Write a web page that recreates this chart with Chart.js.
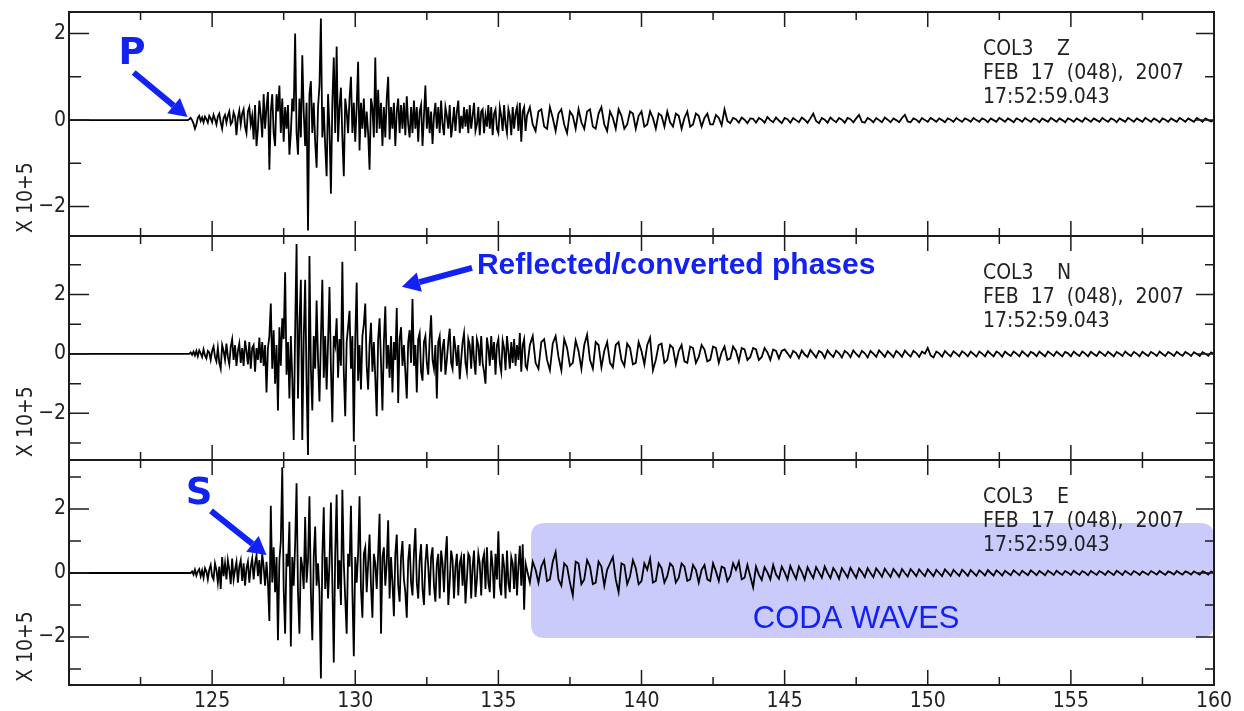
<!DOCTYPE html>
<html>
<head>
<meta charset="utf-8">
<title>COL3 seismogram - Feb 17 2007</title>
<script src="https://cdn.jsdelivr.net/npm/chart.js@4.4.0/dist/chart.umd.min.js"></script>
<style>
  html, body { margin: 0; padding: 0; background: #fff; }
  #wrap { position: relative; width: 1244px; height: 711px; overflow: hidden; }
  #wrap canvas { position: absolute; left: 0; }
</style>
</head>
<body>
<div id="wrap">
  <canvas id="chartZ"></canvas>
  <canvas id="chartN"></canvas>
  <canvas id="chartE"></canvas>
</div>
<script>
// ---- data (amplitudes in units of 10^5) ----
// strong motion sampled every 0.05 s from 124.0 s, coda every 0.1 s from 136.0 s
const QUIET_START = 120;
const STRONG_START = 124.0, STRONG_STEP = 0.05;
const CODA_START = 136.0, CODA_STEP = 0.1;

const xTickLabels = [125, 130, 135, 140, 145, 150, 155, 160];
const yTickLabels = [-2, 0, 2];

const stationName = 'COL3';
const dateLine = 'FEB 17 (048), 2007';
const timeLine = '17:52:59.043';
const unitLabel = 'X 10+5';

// vertical component
const zStrong = [
  0, 0, 0, 0, 0.02, 0.05, 0.0, -0.08, -0.2, -0.1, 0.05, 0.1, -0.02, 0.06, -0.05, 0.08, 0.02, -0.06, 0.1, 0.04,        // 124
  -0.05, 0.12, 0.02, -0.1, 0.08, 0.15, -0.05, -0.2, 0.05, 0.12, -0.06, 0.1, 0.2, -0.1, -0.05, 0.18, 0.08, -0.35, 0.05, 0.22, // 125
  -0.1, 0.15, 0.25, -0.15, -0.3, 0.2, 0.3, -0.1, 0.1, -0.45, 0.35, -0.6, -0.2, 0.45, 0.1, -0.4, 0.6, -0.2, 0.3, 0.65,   // 126
  -1.15, 0.2, 0.6, -0.3, -0.6, 0.6, 0.2, 0.8, -0.3, 0.5, -0.5, 0.3, -0.2, 0.35, -0.8, -0.3, 0.5, 0.2, 2.0, -0.3,         // 127
  -0.8, 0.5, -0.4, 1.5, 0.2, -0.6, 0.4, -2.55, 0.6, 0.9, -0.3, 0.4, -0.5, -1.1, 0.3, 0.8, 2.35, -0.4, 0.3, -0.6,         // 128
  -1.3, 0.6, -0.2, -1.7, 0.4, 1.45, -0.3, 1.7, -0.5, 0.3, 0.75, -0.4, -1.3, 0.5, 0.2, -0.3, 0.5, 1.0, -0.3, 0.4,         // 129
  -0.5, 0.3, 1.35, -0.7, 0.4, -0.2, 0.5, -0.4, 0.2, -0.3, -1.15, 0.5, 0.3, -0.4, 1.45, -0.3, 0.7, -0.2, 0.4, -0.6,       // 130
  0.3, -0.4, 0.5, 1.0, -0.45, 0.3, -0.2, 0.4, -0.6, 0.2, 0.5, -0.3, 0.35, -0.2, 0.4, -0.35, 0.55, -0.1, -0.4, 0.3,       // 131
  -0.3, 0.45, -0.2, 0.3, -0.5, 0.2, 0.35, -0.6, 0.1, 0.8, -0.2, 0.3, -0.3, 0.2, -0.55, 0.1, 0.4, -0.2, 0.3, -0.3,        // 132
  0.45, -0.1, -0.35, 0.3, 0.1, -0.2, 0.35, -0.4, -0.1, 0.3, -0.25, 0.2, 0.45, -0.3, 0.1, -0.2, 0.3, -0.15, 0.25, -0.3,   // 133
  0.35, -0.2, 0.1, 0.4, -0.25, -0.1, 0.3, -0.35, 0.2, 0.25, -0.3, 0.1, -0.15, 0.35, -0.2, 0.3, -0.35, 0.15, 0.25, -0.2,  // 134
  -0.3, 0.3, 0.1, -0.25, 0.35, -0.1, -0.3, 0.25, 0.1, -0.35, 0.3, -0.2, 0.15, 0.3, -0.25, 0.4, -0.5, 0.2, 0.3, -0.25     // 135
];
const zCoda = [
  0.1, 0.3, -0.1, -0.25, 0.2, 0.25, -0.15, -0.2, 0.3, 0.05,        // 136
  -0.25, 0.15, 0.25, -0.1, -0.3, 0.2, 0.1, -0.2, 0.25, -0.05,      // 137
  -0.2, 0.2, 0.25, -0.15, -0.2, 0.15, 0.3, -0.1, -0.25, 0.2,       // 138
  0.05, -0.2, 0.25, 0.1, -0.2, -0.1, 0.2, 0.15, -0.2, 0.1,         // 139
  0.2, -0.15, -0.1, 0.2, 0.05, -0.2, 0.15, 0.1, -0.15, 0.2,        // 140
  -0.05, -0.15, 0.15, 0.1, -0.2, 0.05, 0.2, -0.15, -0.1, 0.15,     // 141
  0.1, -0.15, 0.05, 0.15, -0.1, -0.1, 0.12, 0.05, -0.12, 0.25,     // 142
  -0.02, -0.07, 0.05, 0.02, -0.06, 0.06, 0.01, -0.07, 0.04, 0.03,  // 143
  -0.06, 0.05, 0.01, -0.06, 0.07, 0.0, -0.05, 0.06, -0.01, -0.07,  // 144
  0.05, 0.02, -0.06, 0.05, 0.0, -0.05, 0.06, 0.01, -0.06, 0.04,    // 145
  0.15, -0.02, -0.07, 0.05, 0.01, -0.06, 0.06, 0.0, -0.05, 0.05,   // 146
  0.01, -0.06, 0.05, 0.02, -0.05, 0.04, 0.12, -0.04, -0.06, 0.05,  // 147
  0.01, -0.05, 0.05, 0.0, -0.05, 0.06, 0.01, -0.05, 0.04, 0.0,     // 148
  -0.05, 0.05, 0.12, -0.03, -0.05, 0.04, 0.01, -0.05, 0.05, 0.0,   // 149
  -0.04, 0.05, 0.01, -0.04, 0.04, 0.0, -0.05, 0.04, 0.01, -0.04,   // 150
  0.05, 0.0, -0.04, 0.04, 0.01, -0.04, 0.05, 0.0, -0.04, 0.04,     // 151
  0.01, -0.05, 0.04, 0.0, -0.04, 0.05, 0.01, -0.04, 0.04, 0.0,     // 152
  -0.05, 0.04, 0.01, -0.04, 0.05, 0.0, -0.04, 0.04, 0.01, -0.05,   // 153
  0.04, 0.0, -0.04, 0.05, 0.01, -0.04, 0.04, 0.0, -0.05, 0.04,     // 154
  0.01, -0.04, 0.04, 0.0, -0.04, 0.05, 0.01, -0.04, 0.04, 0.0,     // 155
  -0.04, 0.05, 0.0, -0.04, 0.04, 0.01, -0.05, 0.04, 0.0, -0.04,    // 156
  0.05, 0.01, -0.04, 0.04, 0.0, -0.04, 0.05, 0.01, -0.04, 0.04,    // 157
  0.0, -0.05, 0.04, 0.01, -0.04, 0.04, 0.0, -0.04, 0.05, 0.01,     // 158
  -0.04, 0.04, 0.0, -0.04, 0.05, 0.01, -0.04, 0.04, 0.0, -0.03,    // 159
  0.0
];

// north component
const nStrong = [
  0, 0, 0, 0, 0, 0.05, -0.03, 0.08, -0.05, 0.1, -0.08, 0.12, 0.02, -0.1, 0.15, -0.05, -0.15, 0.1, 0.05, -0.2,          // 124
  0.1, 0.25, -0.1, -0.25, 0.2, -0.3, -0.5, 0.3, 0.1, -0.2, 0.35, -0.1, -0.35, 0.25, 0.5, -0.2, 0.3, -0.4, 0.1, 0.35,     // 125
  -0.3, 0.2, -0.4, 0.45, 0.1, -0.35, 0.4, -0.5, 0.2, 0.3, -0.6, 0.2, -0.2, 0.55, -0.3, 0.4, -0.4, 0.3, -1.3, 0.2,        // 126
  0.6, 1.7, -0.5, 0.8, -1.0, 0.3, -1.9, 0.9, -0.4, 1.2, 0.5, 2.75, -0.7, 0.4, -1.5, 0.6, -0.8, -2.9, 0.8, 3.7,           // 127
  -1.5, 1.0, 2.5, -2.9, 0.5, 2.5, -1.0, -3.4, 3.3, -0.5, -1.9, 0.6, -0.5, 1.8, -0.2, -1.6, 0.5, 2.5, -0.8, 0.6,          // 128
  -1.2, 0.4, 2.25, -0.5, -2.3, 0.6, 0.3, 1.2, -0.8, 0.5, -0.4, 3.1, -0.6, -2.1, 0.4, 0.9, 1.45, -0.5, 0.6, -2.95,        // 129
  0.5, 2.4, -0.9, 0.3, -1.2, 0.6, 1.0, 1.7, -0.4, -1.2, 0.3, 1.05, -0.6, 0.4, -0.8, -2.1, 0.5, 1.2, -0.3, -1.9,          // 130
  0.4, 1.6, -0.5, 0.3, -0.8, 0.6, -1.3, 0.4, -0.2, 1.55, -1.65, 0.5, 0.9, -0.4, 0.3, -0.6, -1.5, 0.4, 0.8, -0.3,         // 131
  1.85, -0.4, 0.3, -1.3, 0.5, 0.7, -0.6, -0.9, 0.4, 0.6, -0.3, -0.7, 0.5, 1.3, -0.2, -0.5, 0.3, -1.5, 0.4, 0.6,          // 132
  -0.6, 0.2, 0.5, -0.7, -0.2, 0.4, 0.85, -0.3, -0.5, 0.6, 0.2, -0.4, 0.3, -0.85, -0.2, 0.4, 0.7, -0.3, -0.6, 0.5,        // 133
  0.3, -0.5, 0.6, -0.2, -0.7, 0.5, 0.3, -0.4, 0.6, -0.3, -0.6, -1.0, 0.55, 0.2, -0.4, 0.6, -0.2, 0.4, -0.7, 0.3,         // 134
  0.5, -0.3, -0.6, 0.45, 0.2, -0.55, 0.6, 0.1, -0.5, 0.4, -0.3, 0.5, -0.4, 0.3, -0.2, 0.7, -0.6, 0.3, 0.5, -0.4          // 135
];
const nCoda = [
  -0.5, 0.3, 0.6, -0.3, -0.5, 0.4, 0.5, -0.2, -0.55, 0.35,        // 136
  0.6, -0.1, -0.55, 0.5, 0.2, -0.4, -0.3, 0.45, 0.1, -0.5,        // 137
  0.3, 0.65, -0.2, -0.5, 0.4, 0.3, -0.45, 0.1, 0.4, -0.3,         // 138
  -0.45, 0.3, 0.4, -0.2, -0.4, 0.35, 0.2, -0.35, -0.3, 0.4,       // 139
  0.1, -0.35, 0.3, 0.55, -0.55, -0.2, 0.3, 0.35, -0.3, -0.2,      // 140
  0.3, 0.2, -0.35, 0.1, 0.3, -0.25, -0.3, 0.25, 0.2, -0.3,        // 141
  -0.1, 0.3, 0.15, -0.25, -0.2, 0.25, 0.2, -0.3, 0.05, 0.25,      // 142
  -0.2, -0.15, 0.25, 0.1, -0.25, 0.2, 0.15, -0.2, -0.1, 0.2,      // 143
  0.15, -0.2, -0.1, 0.2, 0.05, -0.2, 0.15, 0.1, -0.15, 0.1,       // 144
  0.15, 0.02, -0.12, 0.1, 0.03, -0.14, 0.12, -0.02, -0.1, 0.13,   // 145
  0.01, -0.12, 0.1, 0.04, -0.13, 0.12, -0.01, -0.1, 0.11, 0.02,   // 146
  -0.12, 0.1, 0.03, -0.11, 0.12, 0.0, -0.1, 0.1, 0.02, -0.12,     // 147
  0.1, 0.01, -0.1, 0.12, 0.02, -0.1, 0.09, 0.0, -0.11, 0.1,       // 148
  0.02, -0.1, 0.11, 0.0, -0.09, 0.1, 0.03, -0.1, 0.08, 0.01,      // 149
  0.2, -0.05, -0.12, 0.08, 0.02, -0.09, 0.1, 0.0, -0.08, 0.09,    // 150
  0.01, -0.08, 0.09, 0.02, -0.08, 0.08, 0.0, -0.09, 0.08, 0.01,   // 151
  -0.08, 0.09, 0.0, -0.08, 0.08, 0.02, -0.09, 0.08, 0.0, -0.07,   // 152
  0.08, 0.01, -0.08, 0.09, 0.0, -0.08, 0.07, 0.02, -0.08, 0.08,   // 153
  0.0, -0.08, 0.08, 0.01, -0.07, 0.08, 0.0, -0.08, 0.07, 0.02,    // 154
  -0.08, 0.08, 0.0, -0.07, 0.08, 0.01, -0.08, 0.07, 0.0, -0.07,   // 155
  0.08, 0.01, -0.07, 0.07, 0.0, -0.08, 0.07, 0.01, -0.07, 0.08,   // 156
  0.0, -0.07, 0.07, 0.01, -0.08, 0.07, 0.0, -0.07, 0.07, 0.01,    // 157
  -0.07, 0.08, 0.0, -0.07, 0.07, 0.01, -0.07, 0.07, 0.0, -0.06,   // 158
  0.07, 0.01, -0.07, 0.06, 0.0, -0.07, 0.06, 0.01, -0.06, 0.05,   // 159
  0.0
];

// east component
const eStrong = [
  0, 0, 0, 0, 0, 0, 0.05, -0.05, 0.1, -0.08, 0.05, 0.12, -0.1, 0.08, -0.15, 0.15, 0.05, -0.2, 0.1, 0.25,               // 124
  -0.1, -0.2, 0.3, 0.1, -0.3, 0.2, -0.5, 0.5, -0.1, 0.3, -0.2, 0.4, 0.1, -0.35, 0.45, -0.2, 0.1, 0.35, -0.3, 0.2,        // 125
  0.4, -0.25, 0.3, -0.4, 0.15, 0.35, -0.3, 0.2, 0.45, -0.2, 0.3, 0.55, -0.1, 0.4, -0.35, 0.6, 0.2, -0.4, 0.35, -0.3,     // 126
  -1.5, 2.1, -0.3, 0.8, -0.6, 0.5, -2.1, 0.4, 1.0, 3.3, -0.5, -1.9, 0.6, 0.2, 1.6, -2.3, 0.5, -0.4, 0.9, 2.8,            // 127
  -0.6, -1.9, 0.5, 0.2, -0.5, 1.75, -0.3, 0.4, 2.4, -0.6, -2.1, 0.5, 1.45, -0.4, 0.3, -0.6, -3.3, 0.5, 2.05, -0.5,       // 128
  0.5, -0.8, 0.3, 2.2, -0.3, -2.8, 0.6, 2.45, -0.5, 0.4, -1.0, 2.6, 0.3, -0.8, -1.9, 0.6, 0.2, 2.1, -0.6, -2.6,          // 129
  0.5, -0.3, 0.6, 2.4, -0.5, -1.4, 0.6, 0.8, -0.6, 0.3, 1.2, -0.4, -1.4, 0.6, 0.3, -0.5, 0.6, 1.85, -1.9, 0.5,           // 130
  0.8, -0.4, 0.3, 1.65, -0.8, 0.5, -0.3, -1.35, 0.6, 1.2, -0.4, -0.9, 0.5, 1.0, -0.2, -0.6, -1.4, 0.4, 0.9, -0.3,        // 131
  -0.7, 0.6, 1.4, -0.3, -0.8, 0.4, 0.9, -0.5, -1.0, 0.3, 0.9, 0.2, -0.7, 0.5, 0.8, -0.4, -0.9, 0.3, 0.6, -0.8,           // 132
  0.7, 0.3, -0.6, 0.5, 1.15, -1.0, -0.3, 0.7, 0.4, -0.8, 0.2, 0.6, -0.7, 0.3, 0.5, -0.4, 0.6, -0.95, -0.2, 0.6,          // 133
  0.5, -0.8, 0.2, 0.7, -0.75, -0.2, 0.6, 0.3, -0.7, 0.4, 0.6, -0.5, 0.8, -0.3, -0.6, 0.7, 0.2, -0.8, 0.6, -0.2,          // 134
  1.3, -0.4, -0.7, 0.6, 0.2, -0.8, 0.7, -0.3, -0.6, 0.5, 0.3, -0.5, 0.6, -0.7, 0.2, 0.85, -0.4, 0.9, -1.15, 0.3          // 135
];
const eCoda = [
  0.1, -0.3, 0.35, 0.1, -0.3, 0.2, 0.4, -0.25, -0.2, 0.35,        // 136
  0.65, -0.2, -0.4, 0.3, 0.2, -0.3, -0.7, 0.35, 0.3, -0.35,       // 137
  -0.2, 0.4, 0.2, -0.35, -0.3, 0.35, 0.2, -0.4, 0.1, 0.3,         // 138
  0.5, -0.2, -0.6, 0.3, 0.25, -0.35, -0.1, 0.4, 0.15, -0.35,      // 139
  -0.25, 0.3, 0.1, 0.45, -0.3, -0.25, 0.3, 0.15, -0.3, -0.1,      // 140
  0.3, 0.2, -0.3, -0.15, 0.3, 0.2, -0.25, -0.2, 0.25, 0.1,        // 141
  -0.3, 0.1, 0.25, -0.2, -0.25, 0.3, 0.05, -0.25, 0.2, 0.15,      // 142
  -0.25, -0.1, 0.3, 0.1, 0.35, -0.2, -0.15, 0.25, -0.1, -0.45,    // 143
  0.2, -0.05, -0.22, 0.18, 0.02, -0.2, 0.25, -0.05, -0.18, 0.2,   // 144
  0.02, -0.2, 0.22, 0.0, -0.18, 0.2, 0.03, -0.2, 0.18, 0.0,       // 145
  -0.16, 0.18, 0.02, -0.15, 0.2, 0.0, -0.16, 0.15, 0.02, -0.18,   // 146
  0.15, 0.01, -0.14, 0.16, 0.0, -0.15, 0.14, 0.02, -0.13, 0.15,   // 147
  0.0, -0.13, 0.14, 0.02, -0.12, 0.13, 0.0, -0.12, 0.12, 0.01,    // 148
  -0.12, 0.12, 0.0, -0.11, 0.12, 0.02, -0.1, 0.11, 0.0, -0.1,     // 149
  0.11, 0.01, -0.1, 0.1, 0.0, -0.1, 0.11, 0.01, -0.09, 0.1,       // 150
  0.0, -0.09, 0.1, 0.01, -0.09, 0.09, 0.0, -0.09, 0.08, 0.01,     // 151
  -0.08, 0.09, 0.0, -0.08, 0.08, 0.01, -0.08, 0.07, 0.0, -0.07,   // 152
  0.08, 0.01, -0.07, 0.07, 0.0, -0.07, 0.08, 0.01, -0.07, 0.06,   // 153
  0.0, -0.07, 0.07, 0.01, -0.06, 0.07, 0.0, -0.06, 0.06, 0.01,    // 154
  -0.06, 0.07, 0.0, -0.06, 0.06, 0.01, -0.07, 0.06, 0.0, -0.06,   // 155
  0.06, 0.01, -0.06, 0.06, 0.0, -0.06, 0.07, 0.01, -0.06, 0.06,   // 156
  0.0, -0.06, 0.06, 0.01, -0.06, 0.05, 0.0, -0.06, 0.06, 0.01,    // 157
  -0.05, 0.06, 0.0, -0.06, 0.05, 0.01, -0.05, 0.06, 0.0, -0.05,   // 158
  0.05, 0.01, -0.05, 0.05, 0.0, -0.05, 0.05, 0.01, -0.05, 0.04,   // 159
  0.0
];

// ---- layout / style ----
const X_MIN = 120, X_MAX = 160;
const PANEL_H = 224;
const MARGIN = 16;
const INK = '#1c1c1c';
const BLUE = '#1222f2';
const NARROW = "'Liberation Sans Narrow', 'DejaVu Sans Condensed', sans-serif";

Chart.defaults.font.family = NARROW;
Chart.defaults.font.size = 21;
Chart.defaults.color = '#222';

const panels = [
  { id: 'chartZ', comp: 'Z', strong: zStrong, coda: zCoda, yMin: -2.68, yMax: 2.5, top: 12, showX: false,
    note: { letter: 'P', letterAt: [122.2, 1.53], from: [122.26, 1.1], to: [124.14, 0.07] } },
  { id: 'chartN', comp: 'N', strong: nStrong, coda: nCoda, yMin: -3.57, yMax: 3.97, top: 236, showX: false,
    note: { text: 'Reflected/converted phases', textAt: [134.25, 2.97], from: [134.08, 2.9], to: [131.63, 2.26] } },
  { id: 'chartE', comp: 'E', strong: eStrong, coda: eCoda, yMin: -3.5, yMax: 3.53, top: 460, showX: true,
    note: { letter: 'S', letterAt: [124.54, 2.44], from: [124.96, 1.94], to: [126.9, 0.56] },
    box: { from: 136.14, to: 160, top: 1.56, bottom: -2.03, text: 'CODA WAVES', textAt: [147.5, -1.44] } }
];

function toPoints(strong, coda) {
  const pts = [{ x: QUIET_START, y: 0 }];
  strong.forEach((v, i) => pts.push({ x: STRONG_START + i * STRONG_STEP, y: v }));
  coda.forEach((v, i) => pts.push({ x: CODA_START + i * CODA_STEP, y: v }));
  return pts;
}

function minusLabel(v) {
  return v < 0 ? '\u2212' + Math.abs(v) : String(v);
}

function roundedRect(ctx, x, y, w, h, r) {
  ctx.beginPath();
  ctx.moveTo(x + r, y);
  ctx.lineTo(x + w - r, y);
  ctx.quadraticCurveTo(x + w, y, x + w, y + r);
  ctx.lineTo(x + w, y + h - r);
  ctx.quadraticCurveTo(x + w, y + h, x + w - r, y + h);
  ctx.lineTo(x + r, y + h);
  ctx.quadraticCurveTo(x, y + h, x, y + h - r);
  ctx.lineTo(x, y + r);
  ctx.quadraticCurveTo(x, y, x + r, y);
  ctx.closePath();
}

function drawArrow(ctx, x1, y1, x2, y2) {
  const ang = Math.atan2(y2 - y1, x2 - x1);
  const head = 18, half = 10;
  const bx = x2 - head * Math.cos(ang), by = y2 - head * Math.sin(ang);
  ctx.save();
  ctx.strokeStyle = BLUE;
  ctx.fillStyle = BLUE;
  ctx.lineWidth = 6;
  ctx.beginPath();
  ctx.moveTo(x1, y1);
  ctx.lineTo(bx, by);
  ctx.stroke();
  ctx.beginPath();
  ctx.moveTo(x2, y2);
  ctx.lineTo(bx + half * Math.sin(ang), by - half * Math.cos(ang));
  ctx.lineTo(bx - half * Math.sin(ang), by + half * Math.cos(ang));
  ctx.closePath();
  ctx.fill();
  ctx.restore();
}

// frame, inward ticks, header text and the blue notes
function makeOverlay(panel) {
  return {
    id: 'overlay' + panel.comp,
    beforeDatasetsDraw(chart) {
      const b = panel.box;
      if (!b) return;
      const { ctx, scales: { x, y } } = chart;
      const x1 = x.getPixelForValue(b.from), x2 = x.getPixelForValue(b.to);
      const y1 = y.getPixelForValue(b.top), y2 = y.getPixelForValue(b.bottom);
      ctx.save();
      ctx.fillStyle = '#cbcbfb';
      roundedRect(ctx, x1, y1, x2 - x1, y2 - y1, 14);
      ctx.fill();
      ctx.fillStyle = BLUE;
      ctx.font = "31px 'Liberation Sans', Arial, sans-serif";
      ctx.textAlign = 'center';
      ctx.textBaseline = 'middle';
      ctx.fillText(b.text, x.getPixelForValue(b.textAt[0]), y.getPixelForValue(b.textAt[1]));
      ctx.restore();
    },
    afterDraw(chart) {
      const { ctx, chartArea: area, scales: { x, y } } = chart;
      ctx.save();
      ctx.strokeStyle = INK;
      ctx.lineWidth = 1.5;
      ctx.beginPath();
      x.ticks.forEach(t => {
        if (t.value <= X_MIN || t.value >= X_MAX) return;
        const px = x.getPixelForValue(t.value);
        const len = t.value % 5 === 0 ? 15 : 8;
        ctx.moveTo(px, area.top); ctx.lineTo(px, area.top + len);
        ctx.moveTo(px, area.bottom); ctx.lineTo(px, area.bottom - len);
      });
      y.ticks.forEach(t => {
        const py = y.getPixelForValue(t.value);
        const major = Math.abs(t.value % 2) < 1e-9;
        ctx.moveTo(area.left, py); ctx.lineTo(area.left + (major ? 20 : 12), py);
        ctx.moveTo(area.right, py); ctx.lineTo(area.right - (major ? 18 : 9), py);
      });
      ctx.stroke();
      ctx.lineWidth = 2;
      ctx.strokeRect(area.left, area.top, area.right - area.left, area.bottom - area.top);

      // header lines
      ctx.fillStyle = '#222';
      ctx.font = '21px ' + NARROW;
      ctx.textAlign = 'left';
      ctx.textBaseline = 'alphabetic';
      ctx.fillText(stationName, area.right - 231, area.top + 43);
      ctx.fillText(panel.comp, area.right - 157, area.top + 43);
      ctx.fillText(timeLine, area.right - 231, area.top + 91);
      ctx.wordSpacing = '6px';
      ctx.fillText(dateLine, area.right - 231, area.top + 67);
      ctx.wordSpacing = '0px';

      // unit label, rotated
      ctx.save();
      ctx.translate(32, area.bottom - 3);
      ctx.rotate(-Math.PI / 2);
      ctx.fillText(unitLabel, 0, 0);
      ctx.restore();

      // blue notes
      const n = panel.note;
      if (n) {
        drawArrow(ctx, x.getPixelForValue(n.from[0]), y.getPixelForValue(n.from[1]),
                  x.getPixelForValue(n.to[0]), y.getPixelForValue(n.to[1]));
        ctx.fillStyle = BLUE;
        ctx.textBaseline = 'middle';
        if (n.letter) {
          ctx.font = "bold 37px 'DejaVu Sans', sans-serif";
          ctx.textAlign = 'center';
          ctx.fillText(n.letter, x.getPixelForValue(n.letterAt[0]), y.getPixelForValue(n.letterAt[1]));
        } else {
          ctx.font = "bold 30px 'Liberation Sans', Arial, sans-serif";
          ctx.textAlign = 'left';
          ctx.fillText(n.text, x.getPixelForValue(n.textAt[0]), y.getPixelForValue(n.textAt[1]));
        }
      }
      ctx.restore();
    }
  };
}

panels.forEach(panel => {
  const canvas = document.getElementById(panel.id);
  const canvasTop = panel.top - MARGIN;
  const height = panel.showX ? 711 - canvasTop : PANEL_H + 2 * MARGIN;
  canvas.width = 1244;
  canvas.height = height;
  canvas.style.top = canvasTop + 'px';

  new Chart(canvas, {
    type: 'line',
    data: {
      datasets: [{
        label: stationName + ' ' + panel.comp,
        data: toPoints(panel.strong, panel.coda),
        borderColor: '#000',
        borderWidth: 1.8,
        pointRadius: 0,
        tension: 0,
        fill: false
      }]
    },
    options: {
      responsive: false,
      animation: false,
      events: [],
      layout: { padding: { top: MARGIN, bottom: panel.showX ? 0 : MARGIN, left: 0, right: 30 } },
      plugins: { legend: { display: false }, tooltip: { enabled: false } },
      scales: {
        x: {
          type: 'linear',
          min: X_MIN,
          max: X_MAX,
          display: panel.showX,
          grid: { display: false, drawTicks: false },
          border: { display: false },
          ticks: {
            stepSize: 2.5,
            autoSkip: false,
            maxRotation: 0,
            padding: 4,
            callback: v => xTickLabels.includes(v) ? String(v) : ''
          },
          afterFit: s => { if (panel.showX) s.height = 26; }
        },
        y: {
          type: 'linear',
          min: panel.yMin,
          max: panel.yMax,
          grid: { display: false, drawTicks: false },
          border: { display: false },
          ticks: {
            stepSize: 1,
            includeBounds: false,
            autoSkip: false,
            padding: 3,
            callback: v => yTickLabels.includes(v) ? minusLabel(v) : ''
          },
          afterFit: s => { s.width = 69; }
        }
      }
    },
    plugins: [makeOverlay(panel)]
  });
});
</script>
</body>
</html>
